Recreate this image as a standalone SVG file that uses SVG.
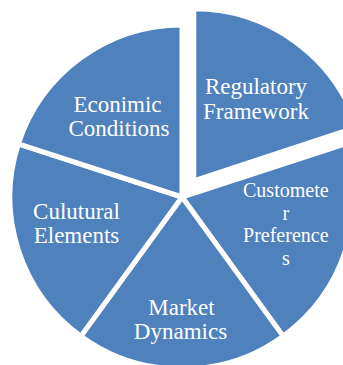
<svg xmlns="http://www.w3.org/2000/svg" width="343" height="365" viewBox="0 0 343 365">
  <style>
    .slice { fill: #4f81bd; stroke: #ffffff; stroke-width: 5; }
    .lbl { fill: #ffffff; text-anchor: middle; }
  </style>
  <rect width="343" height="365" fill="#ffffff"/>
  <g id="regulatory-framework">
    <path class="slice" d="M193.76,180.82 L193.76,8.82 A172,172 0 0 1 357.34,126.97 Z"/>
    <g font-family="'Liberation Serif', 'DejaVu Serif', serif" font-size="23">
      <text class="lbl" x="256" y="94.3">Regulatory</text>
      <text class="lbl" x="256" y="119">Framework</text>
    </g>
  </g>
  <g id="customer-preferences">
    <path class="slice" d="M182,197 L345.58,143.85 A172,172 0 0 1 283.10,336.15 Z"/>
    <g font-family="'Liberation Serif', 'DejaVu Serif', serif" font-size="20">
      <text class="lbl" x="285.8" y="196.8">Customete</text>
      <text class="lbl" x="285.8" y="219.6">r</text>
      <text class="lbl" x="285.8" y="242.4">Preference</text>
      <text class="lbl" x="285.8" y="265.2">s</text>
    </g>
  </g>
  <g id="market-dynamics">
    <path class="slice" d="M182,197 L283.10,336.15 A172,172 0 0 1 80.90,336.15 Z"/>
    <g font-family="'Liberation Serif', 'DejaVu Serif', serif" font-size="23">
      <text class="lbl" x="181.5" y="315">Market</text>
      <text class="lbl" x="180.5" y="339.3">Dynamics</text>
    </g>
  </g>
  <g id="cultural-elements">
    <path class="slice" d="M182,197 L80.90,336.15 A172,172 0 0 1 18.42,143.85 Z"/>
    <g font-family="'Liberation Serif', 'DejaVu Serif', serif" font-size="23">
      <text class="lbl" x="76.5" y="218.7">Culutural</text>
      <text class="lbl" x="76.5" y="243.3">Elements</text>
    </g>
  </g>
  <g id="economic-conditions">
    <path class="slice" d="M182,197 L18.42,143.85 A172,172 0 0 1 182,25 Z"/>
    <g font-family="'Liberation Serif', 'DejaVu Serif', serif" font-size="23">
      <text class="lbl" x="117.5" y="111.7">Econimic</text>
      <text class="lbl" x="119" y="135.7">Conditions</text>
    </g>
  </g>
  <g id="connectors"></g>
</svg>
